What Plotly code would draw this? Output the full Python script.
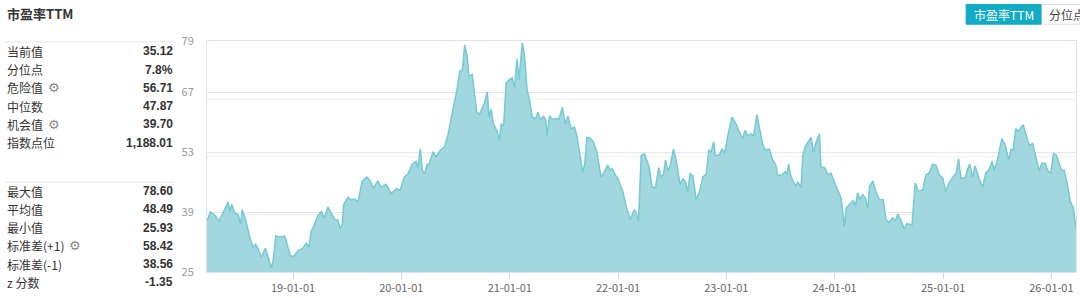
import plotly.graph_objects as go

# ---------------- data ----------------
dates = [
    "2018-03-17", "2018-03-28", "2018-04-12", "2018-04-27", "2018-05-10", "2018-05-27", "2018-06-02",
    "2018-06-09", "2018-06-18", "2018-06-30", "2018-07-08", "2018-07-14", "2018-07-25", "2018-08-08",
    "2018-08-19", "2018-08-28", "2018-09-05", "2018-09-16", "2018-09-30", "2018-10-09", "2018-10-20",
    "2018-10-26", "2018-11-04", "2018-11-17", "2018-12-04", "2018-12-15", "2018-12-23",
    "2019-01-03", "2019-01-18", "2019-02-01", "2019-02-15", "2019-02-24", "2019-03-03", "2019-03-15",
    "2019-03-26", "2019-04-06", "2019-04-17", "2019-04-29", "2019-05-10", "2019-05-21", "2019-06-01",
    "2019-06-09", "2019-06-16", "2019-06-21", "2019-07-05", "2019-07-16", "2019-07-27", "2019-08-08",
    "2019-08-22", "2019-09-07", "2019-09-18", "2019-09-29", "2019-10-14", "2019-10-25", "2019-11-11",
    "2019-11-28", "2019-12-15", "2019-12-28",
    "2020-01-12", "2020-01-23", "2020-02-07", "2020-02-20", "2020-02-26", "2020-03-05", "2020-03-12",
    "2020-03-20", "2020-03-28", "2020-04-03", "2020-04-17", "2020-04-28", "2020-05-12", "2020-05-26",
    "2020-06-06", "2020-06-18", "2020-06-29", "2020-07-07", "2020-07-16", "2020-07-25", "2020-08-02",
    "2020-08-10", "2020-08-16", "2020-08-27", "2020-09-04", "2020-09-12", "2020-09-21", "2020-09-30",
    "2020-10-08", "2020-10-17", "2020-10-23", "2020-10-30", "2020-11-07", "2020-11-18", "2020-11-27",
    "2020-12-03", "2020-12-11", "2020-12-20", "2020-12-31",
    "2021-01-09", "2021-01-17", "2021-01-25", "2021-02-01", "2021-02-12", "2021-02-20", "2021-02-28",
    "2021-03-09", "2021-03-18", "2021-03-29", "2021-04-06", "2021-04-14", "2021-04-25", "2021-05-02",
    "2021-05-06", "2021-05-15", "2021-05-26", "2021-06-07", "2021-06-16", "2021-06-27", "2021-07-07",
    "2021-07-16", "2021-07-27", "2021-08-07", "2021-08-15", "2021-08-24", "2021-09-04", "2021-09-11",
    "2021-09-18", "2021-09-29", "2021-10-10", "2021-10-21", "2021-11-05", "2021-11-16", "2021-11-27",
    "2021-12-05", "2021-12-12", "2021-12-23",
    "2022-01-03", "2022-01-08", "2022-01-17", "2022-01-28", "2022-02-11", "2022-02-25", "2022-03-05",
    "2022-03-11", "2022-03-20", "2022-03-31", "2022-04-11", "2022-04-17", "2022-04-25", "2022-05-07",
    "2022-05-18", "2022-05-26", "2022-06-03", "2022-06-10", "2022-06-18", "2022-06-26", "2022-07-07",
    "2022-07-18", "2022-07-29", "2022-08-07", "2022-08-16", "2022-08-24", "2022-09-01", "2022-09-10",
    "2022-09-21", "2022-10-03", "2022-10-14", "2022-10-25", "2022-11-03", "2022-11-11", "2022-11-19",
    "2022-11-25", "2022-12-09", "2022-12-18", "2022-12-26",
    "2023-01-06", "2023-01-20", "2023-02-03", "2023-02-14", "2023-02-25", "2023-03-05", "2023-03-14",
    "2023-03-25", "2023-04-03", "2023-04-14", "2023-04-22", "2023-05-03", "2023-05-12", "2023-05-26",
    "2023-06-06", "2023-06-17", "2023-06-23", "2023-07-08", "2023-07-19", "2023-07-25", "2023-07-30",
    "2023-08-07", "2023-08-22", "2023-08-30", "2023-09-10", "2023-09-16", "2023-09-25", "2023-10-06",
    "2023-10-14", "2023-10-22", "2023-10-31", "2023-11-11", "2023-11-16", "2023-11-28", "2023-12-09",
    "2023-12-20", "2023-12-31",
    "2024-01-11", "2024-01-23", "2024-02-03", "2024-02-09", "2024-02-20", "2024-03-04", "2024-03-11",
    "2024-03-19", "2024-03-27", "2024-04-05", "2024-04-14", "2024-04-22", "2024-04-28", "2024-05-09",
    "2024-05-20", "2024-05-31", "2024-06-13", "2024-06-22", "2024-07-01", "2024-07-15", "2024-07-24",
    "2024-08-01", "2024-08-12", "2024-08-23", "2024-08-31", "2024-09-18", "2024-09-29", "2024-10-10",
    "2024-10-24", "2024-11-04", "2024-11-15", "2024-11-26", "2024-12-08", "2024-12-19", "2024-12-31",
    "2025-01-10", "2025-01-22", "2025-02-08", "2025-02-15", "2025-02-22", "2025-03-02", "2025-03-17",
    "2025-03-25", "2025-04-01", "2025-04-10", "2025-04-19", "2025-05-01", "2025-05-14", "2025-05-25",
    "2025-06-06", "2025-06-15", "2025-06-22", "2025-07-04", "2025-07-18", "2025-07-29", "2025-08-10",
    "2025-08-18", "2025-08-25", "2025-09-03", "2025-09-12", "2025-09-20", "2025-09-28", "2025-10-07",
    "2025-10-18", "2025-10-30", "2025-11-10", "2025-11-21", "2025-11-30", "2025-12-11", "2025-12-19",
    "2025-12-30",
    "2026-01-08", "2026-01-18", "2026-01-27", "2026-02-05", "2026-02-13", "2026-02-24", "2026-03-06",
    "2026-03-16", "2026-03-25",
]

pe_ttm = [
    36.9, 39.0, 38.3, 36.9, 38.8, 41.4, 39.2,
    40.8, 38.8, 38.5, 36.2, 39.6, 37.3, 33.2,
    30.8, 31.5, 30.4, 28.5, 30.6, 28.5, 25.93,
    27.7, 33.5, 33.2, 33.4, 30.8, 28.8,
    28.6, 30.0, 30.4, 31.7, 30.9, 34.5, 36.2,
    38.2, 39.1, 37.7, 40.2, 38.8, 37.3, 37.2,
    35.2, 36.2, 40.8, 42.5, 41.8, 42.1, 41.4,
    46.2, 47.2, 46.3, 44.6, 46.3, 44.8, 45.5,
    43.3, 44.5, 44.1,
    47.3, 47.9, 50.2, 50.9, 49.2, 53.8, 48.8,
    47.9, 50.2, 50.0, 53.1, 51.9, 53.5, 54.2,
    56.9, 61.2, 65.2, 67.7, 71.9, 72.3, 78.1,
    75.4, 70.8, 71.2, 66.5, 62.3, 61.9, 63.5,
    64.6, 67.1, 61.2, 63.1, 59.6, 58.1, 55.8,
    59.6, 59.2, 69.2, 70.0,
    70.4, 68.1, 74.8, 70.0, 78.6, 75.4, 67.7,
    65.0, 61.2, 60.9, 62.3, 60.6, 61.4, 60.4,
    56.9, 61.5, 60.6, 60.9, 60.8, 63.5, 59.6,
    61.5, 58.5, 58.9, 56.9, 52.5, 48.3, 50.4,
    56.5, 56.3, 55.4, 53.2, 47.1, 48.5, 50.0,
    48.8, 49.2, 47.7,
    46.5, 45.4, 43.8, 40.4, 37.3, 39.6, 38.5,
    36.9, 52.3, 52.7, 50.4, 49.2, 45.0, 44.6,
    49.4, 47.3, 47.7, 51.2, 48.6, 50.0, 53.7,
    50.4, 45.4, 46.8, 46.2, 43.8, 48.1, 47.5,
    41.9, 43.8, 47.3, 47.8, 53.5, 53.1, 55.4,
    52.2, 52.5, 53.8, 52.7,
    56.9, 61.2, 59.6, 57.7, 56.2, 58.1, 56.9,
    57.3, 56.9, 61.8, 59.2, 55.0, 53.5, 53.7,
    51.2, 50.0, 47.5, 47.8, 48.5, 47.7, 50.2,
    47.3, 45.2, 46.0, 44.8, 52.3, 54.5, 55.8,
    56.5, 52.9, 55.4, 57.3, 49.4, 49.4, 47.8,
    48.1, 46.0,
    44.2, 42.3, 35.5, 40.0, 40.8, 41.7, 40.4,
    43.5, 41.9, 43.1, 42.3, 39.8, 45.0, 46.3,
    43.7, 41.9, 41.9, 37.3, 36.5, 37.7, 36.9,
    38.6, 37.1, 35.0, 36.3, 36.0, 45.8, 43.8,
    44.2, 47.7, 48.1, 50.2, 50.0, 47.7, 46.9,
    43.8, 46.0, 47.7, 48.3, 51.5, 46.9, 47.1,
    49.2, 50.2, 47.1, 49.8, 47.1, 44.8, 48.1,
    49.1, 50.9, 48.8, 51.5, 56.2, 54.8, 51.2,
    53.7, 53.5, 58.5, 57.8, 58.8, 59.4, 57.3,
    54.6, 55.0, 51.9, 48.6, 50.4, 50.4, 48.8,
    48.1,
    52.7, 52.3, 50.4, 48.8, 48.8, 45.4, 41.5,
    40.0, 35.12,
]

y_tick_vals = [25, 39, 53, 67, 79]
x_tick_vals = ["2019-01-01", "2020-01-01", "2021-01-01", "2022-01-01",
               "2023-01-01", "2024-01-01", "2025-01-01", "2026-01-01"]
x_tick_text = ["19-01-01", "20-01-01", "21-01-01", "22-01-01",
               "23-01-01", "24-01-01", "25-01-01", "26-01-01"]

title_text = "市盈率TTM"
top_labels = ["当前值", "分位点", "危险值", "中位数", "机会值", "指数点位"]
top_values = ["35.12", "7.8%", "56.71", "47.87", "39.70", "1,188.01"]
top_gear = [False, False, True, False, True, False]
bottom_labels = ["最大值", "平均值", "最小值", "标准差(+1)", "标准差(-1)", "z 分数"]
bottom_values = ["78.60", "48.49", "25.93", "58.42", "38.56", "-1.35"]
bottom_gear = [False, False, False, True, False, False]
buttons = ["市盈率TTM", "分位点"]
secondary_grid = [38.4, 51.9, 65.4]

# ---------------- layout helpers ----------------
W, H = 1080, 298
L, R, T, B = 207, 3, 41, 23
PW, PH = W - L - R, H - T - B


def px(x):
    return (x - L) / PW


def py(y):
    return (H - B - y) / PH


CJK = "Noto Sans CJK SC, Noto Sans, sans-serif"
TEAL_LINE = "#74c9d3"
TEAL_FILL = "#a1d8df"

fig = go.Figure()
fig.add_trace(go.Scatter(
    x=dates, y=pe_ttm, mode="lines",
    line=dict(color=TEAL_LINE, width=1.5),
    fill="tozeroy", fillcolor=TEAL_FILL,
    hoverinfo="x+y", showlegend=False,
))

annotations = []
shapes = []

# title
annotations.append(dict(
    text="<b>" + title_text + "</b>", x=px(5), y=py(13), xref="paper", yref="paper",
    xanchor="left", yanchor="middle", showarrow=False,
    font=dict(family=CJK, size=13, color="#333333"),
))

# stats table
row_step = 18.5
groups = [
    (top_labels, top_values, top_gear, 42, 51.5),
    (bottom_labels, bottom_values, bottom_gear, 184, 193),
]
gear_offsets = {"危险值": 54, "机会值": 54, "标准差(+1)": 75}
for labels, values, gears, sep_y, first_y in groups:
    shapes.append(dict(type="line", xref="paper", yref="paper",
                       x0=px(5), x1=px(174), y0=py(sep_y), y1=py(sep_y),
                       line=dict(color="#e6e6e6", width=1)))
    for i, (lab, val, g) in enumerate(zip(labels, values, gears)):
        yy = first_y + i * row_step
        annotations.append(dict(
            text=lab, x=px(5), y=py(yy), xref="paper", yref="paper",
            xanchor="left", yanchor="middle", showarrow=False,
            font=dict(family=CJK, size=12, color="#333333"),
        ))
        annotations.append(dict(
            text="<b>" + val + "</b>", x=px(174.5), y=py(yy), xref="paper", yref="paper",
            xanchor="right", yanchor="middle", showarrow=False,
            font=dict(family="Liberation Sans, Arial, sans-serif", size=12, color="#333333"),
        ))
        if g:
            annotations.append(dict(
                text="⚙", x=px(gear_offsets[lab]), y=py(yy), xref="paper", yref="paper",
                xanchor="center", yanchor="middle", showarrow=False,
                font=dict(family="DejaVu Sans", size=13, color="#888888"),
            ))

# buttons top right (second one runs off the page edge, as in the source)
shapes.append(dict(type="rect", xref="paper", yref="paper",
                   x0=px(1042), x1=px(1095), y0=py(24), y1=py(4),
                   line=dict(color="#dddddd", width=1), fillcolor="#ffffff"))
shapes.append(dict(type="rect", xref="paper", yref="paper",
                   x0=px(967), x1=px(1042), y0=py(24), y1=py(4),
                   line=dict(color="#12abc6", width=1), fillcolor="#12abc6"))
annotations.append(dict(
    text=buttons[0], x=px(1004.5), y=py(14), xref="paper", yref="paper",
    xanchor="center", yanchor="middle", showarrow=False,
    font=dict(family=CJK, size=12, color="#ffffff"),
))
annotations.append(dict(
    text=buttons[1], x=px(1048), y=py(14), xref="paper", yref="paper",
    xanchor="left", yanchor="middle", showarrow=False,
    font=dict(family=CJK, size=12, color="#444444"),
))

# secondary (hidden axis) gridlines
for v in secondary_grid:
    shapes.append(dict(type="line", xref="paper", yref="y", x0=0, x1=1, y0=v, y1=v,
                       layer="below", line=dict(color="#eeeeee", width=1)))

fig.update_layout(
    width=W, height=H,
    margin=dict(l=L, r=R, t=T, b=B, pad=0),
    paper_bgcolor="#ffffff", plot_bgcolor="#ffffff",
    showlegend=False,
    annotations=annotations,
    shapes=shapes,
    xaxis=dict(
        type="date", range=[dates[0], dates[-1]],
        tickvals=x_tick_vals, ticktext=x_tick_text,
        showgrid=False, zeroline=False,
        showline=True, linecolor="#dde3ee", linewidth=1, mirror=True,
        ticks="outside", ticklen=6, tickcolor="#ccd6eb",
        tickfont=dict(family=CJK, size=11, color="#666666"),
    ),
    yaxis=dict(
        range=[25, 79], tickvals=y_tick_vals,
        showgrid=True, gridcolor="#e6e6e6", gridwidth=1, zeroline=False,
        showline=True, linecolor="#dde3ee", linewidth=1, mirror=True,
        ticks="", ticklabelstandoff=10,
        tickfont=dict(family=CJK, size=11, color="#999999"),
    ),
)

fig.write_html("out.html")
